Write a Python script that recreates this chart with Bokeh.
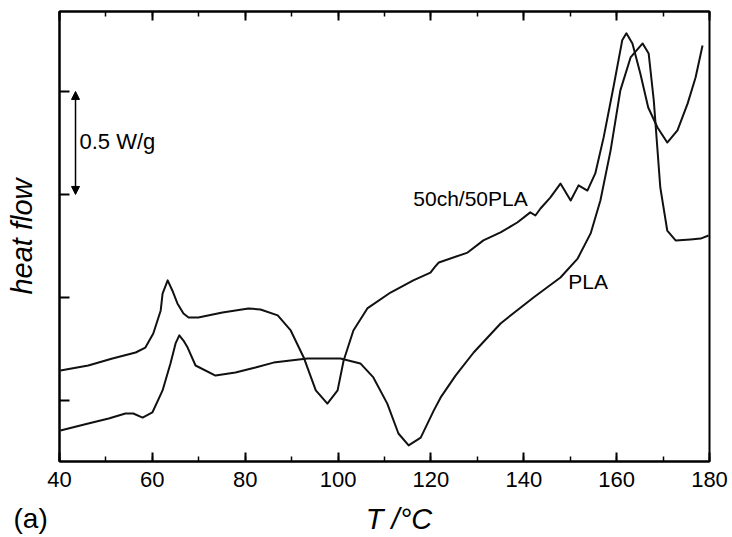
from bokeh.plotting import figure
from bokeh.models import (Range1d, LinearAxis, SingleIntervalTicker, FixedTicker,
                          CustomJSTickFormatter, Label, Arrow, NormalHead, Title)
from bokeh.embed import file_html
from bokeh.resources import INLINE

# ---- data ----
blend_T = [40.2, 46.2, 51.4, 56.4, 58.5, 60.2, 61.8, 62.2, 63.3, 64.3, 65.4, 66.7, 67.8, 69.9,
           75.1, 80.7, 83.3, 87.0, 89.8, 92.6, 95.2, 97.7, 99.9, 101.2, 103.3, 106.3, 111.3,
           116.2, 119.9, 120.9, 121.7, 127.9, 131.3, 135.0, 138.6, 141.4, 142.5, 143.6, 145.7,
           147.9, 150.1, 151.8, 153.7, 155.4, 157.2, 159.3, 161.2, 162.1, 163.4, 165.1, 166.8,
           168.8, 170.9, 173.1, 175.3, 177.0, 178.5]
blend_hf = [0.146, 0.170, 0.204, 0.233, 0.257, 0.325, 0.437, 0.519, 0.583, 0.534, 0.471, 0.422, 0.403, 0.403,
            0.427, 0.447, 0.442, 0.413, 0.340, 0.209, 0.049, -0.015, 0.049, 0.194, 0.340, 0.447, 0.524,
            0.583, 0.621, 0.650, 0.670, 0.718, 0.777, 0.816, 0.864, 0.913, 0.898, 0.932, 0.985,
            1.053, 0.971, 1.044, 1.019, 1.102, 1.277, 1.519, 1.748, 1.782, 1.733, 1.587, 1.422,
            1.325, 1.252, 1.311, 1.442, 1.568, 1.723]

pla_T = [40.2, 46.2, 50.6, 54.2, 55.9, 57.9, 60.0, 62.2, 63.9, 65.0, 65.8, 66.7, 67.6, 69.3,
         73.6, 77.9, 82.2, 86.1, 93.4, 100.5, 104.8, 107.6, 110.6, 113.0, 115.2, 117.8, 120.6,
         122.1, 125.3, 129.2, 135.0, 142.1, 147.9, 151.6, 154.4, 156.5, 158.7, 160.8, 163.0,
         165.6, 166.9, 168.0, 169.4, 170.9, 172.7, 175.9, 178.1, 179.8]
pla_hf = [-0.146, -0.112, -0.087, -0.063, -0.063, -0.083, -0.058, 0.049, 0.180, 0.277, 0.316, 0.291, 0.257, 0.170,
          0.121, 0.136, 0.160, 0.184, 0.204, 0.204, 0.180, 0.112, -0.015, -0.160, -0.218, -0.180, -0.049,
          0.015, 0.121, 0.233, 0.374, 0.500, 0.597, 0.689, 0.811, 0.971, 1.214, 1.505, 1.665,
          1.733, 1.684, 1.456, 1.034, 0.825, 0.777, 0.782, 0.786, 0.801]

y_ticks = [0.0, 0.5, 1.0, 1.5]
scale_bar = (1.0, 1.5)   # 0.5 W/g
FONT = "Liberation Sans"

p = figure(width=732, height=537, x_range=Range1d(40, 180), y_range=Range1d(-0.296, 1.888),
           output_backend="svg", toolbar_location=None,
           min_border_left=59, min_border_right=23, min_border_top=11, min_border_bottom=76,
           x_axis_location=None, y_axis_location=None)
p.background_fill_color = "white"
p.border_fill_color = "white"
p.grid.visible = False
p.outline_line_color = "black"
p.outline_line_width = 2
p.outline_line_alpha = 1.0

def style_x(ax, labels=True):
    ax.ticker = SingleIntervalTicker(interval=20, num_minor_ticks=2)
    ax.axis_line_width = 2
    ax.axis_line_color = "black"
    ax.major_tick_in = 9
    ax.major_tick_out = 0
    ax.minor_tick_in = 5
    ax.minor_tick_out = 0
    ax.major_tick_line_width = 2
    ax.minor_tick_line_width = 1.5
    if labels:
        ax.major_label_text_font = FONT
        ax.major_label_text_font_size = "22px"
        ax.major_label_text_color = "black"
        ax.major_label_standoff = 10
    else:
        ax.formatter = CustomJSTickFormatter(code="return ''")
        ax.major_label_standoff = 0

xb = LinearAxis()
style_x(xb)
xb.axis_label = "\u2003T /°C"
xb.axis_label_text_font = FONT
xb.axis_label_text_font_style = "italic"
xb.axis_label_text_font_size = "29px"
xb.axis_label_text_color = "black"
xb.axis_label_standoff = 13
p.add_layout(xb, "below")

xt = LinearAxis()
style_x(xt, labels=False)
p.add_layout(xt, "above")

yl = LinearAxis()
yl.ticker = FixedTicker(ticks=y_ticks, minor_ticks=[])
yl.formatter = CustomJSTickFormatter(code="return ''")
yl.axis_line_width = 2
yl.major_tick_in = 10
yl.major_tick_out = 0
yl.major_tick_line_width = 2
yl.minor_tick_in = 0
yl.minor_tick_out = 0
yl.major_label_standoff = 0
yl.axis_label = "heat flow"
yl.axis_label_text_font = FONT
yl.axis_label_text_font_style = "italic"
yl.axis_label_text_font_size = "29px"
yl.axis_label_text_color = "black"
yl.axis_label_standoff = 22
p.add_layout(yl, "left")

# panel label "(a)": a title after the bottom axis, pulled back up with a negative standoff
p.add_layout(Title(text="(a)", align="left", vertical_align="top", offset=-46, standoff=-69,
                   text_font=FONT, text_font_size="28px", text_font_style="normal",
                   text_color="black"), "below")

p.line(blend_T, blend_hf, line_color="#111111", line_width=2, line_join="round")
p.line(pla_T, pla_hf, line_color="#111111", line_width=2, line_join="round")

# scale bar
p.add_layout(Arrow(x_start=43.45, y_start=scale_bar[0], x_end=43.45, y_end=scale_bar[1],
                   line_width=1.5, line_color="black",
                   start=NormalHead(size=8, fill_color="black", line_color="black"),
                   end=NormalHead(size=8, fill_color="black", line_color="black")))
p.add_layout(Label(x=44.3, y=1.257, text="0.5 W/g", text_font=FONT, text_font_size="22px",
                   text_baseline="middle", text_align="left", text_color="black"))

p.add_layout(Label(x=116.2, y=0.981, text="50ch/50PLA", text_font=FONT, text_font_size="21px",
                   text_baseline="middle", text_align="left", text_color="black"))
p.add_layout(Label(x=149.6, y=0.578, text="PLA", text_font=FONT, text_font_size="21px",
                   text_baseline="middle", text_align="left", text_color="black"))

open("out.html", "w").write(file_html(p, INLINE))
